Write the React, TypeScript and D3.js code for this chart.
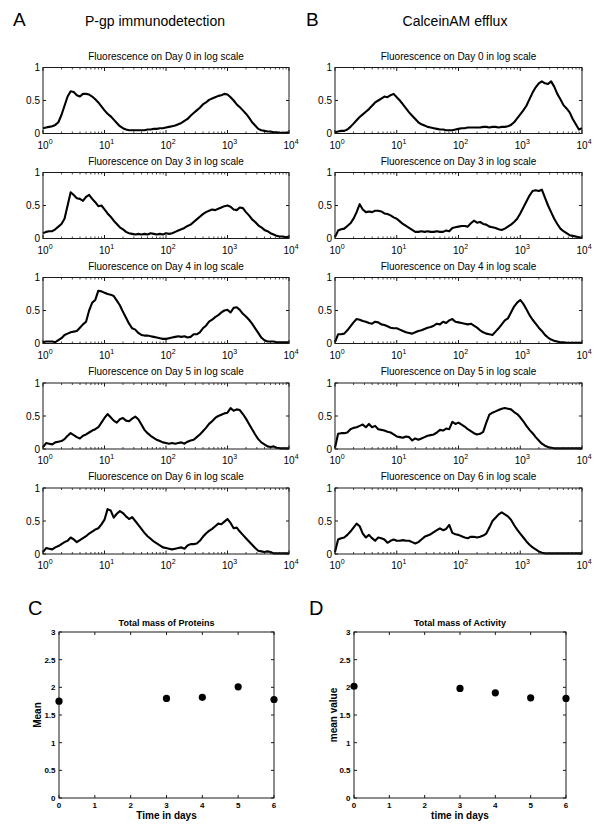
import React from "react";
import * as d3 from "d3";

// histogram bins, 0.05 decade apart from 10^0 to 10^4 (log10 units)
const logBins = d3.range(0, 81).map((i) => i * 0.05);

const pgpDay0 = [
  0.08, 0.09, 0.1, 0.11, 0.13, 0.17, 0.28, 0.42,
  0.56, 0.64, 0.63, 0.58, 0.56, 0.6, 0.6, 0.59,
  0.56, 0.52, 0.47, 0.41, 0.35, 0.3, 0.26, 0.21,
  0.16, 0.11, 0.08, 0.06, 0.05, 0.05, 0.05, 0.05,
  0.05, 0.05, 0.06, 0.06, 0.07, 0.07, 0.08, 0.08,
  0.09, 0.1, 0.11, 0.12, 0.14, 0.16, 0.19, 0.22,
  0.27, 0.31, 0.35, 0.39, 0.44, 0.47, 0.51, 0.53,
  0.55, 0.57, 0.58, 0.6, 0.59, 0.55, 0.5, 0.44,
  0.4, 0.35, 0.3, 0.24, 0.17, 0.12, 0.07, 0.05,
  0.04, 0.03, 0.03, 0.02, 0.02, 0.01, 0.01, 0.01,
  0.02,
];
const pgpDay3 = [
  0.08, 0.1, 0.11, 0.11, 0.14, 0.18, 0.22, 0.3,
  0.5, 0.7, 0.66, 0.61, 0.6, 0.57, 0.63, 0.66,
  0.6, 0.55, 0.49, 0.5, 0.44, 0.38, 0.33, 0.27,
  0.22, 0.17, 0.14, 0.1, 0.08, 0.07, 0.06, 0.07,
  0.06, 0.07, 0.06, 0.08, 0.07, 0.06, 0.07, 0.06,
  0.08, 0.07, 0.08, 0.1, 0.12, 0.14, 0.16, 0.19,
  0.21, 0.25, 0.29, 0.33, 0.37, 0.4, 0.42, 0.44,
  0.43, 0.45, 0.47, 0.49, 0.5, 0.48, 0.44, 0.43,
  0.47, 0.46, 0.4, 0.35, 0.29, 0.25, 0.2, 0.17,
  0.13, 0.11, 0.08, 0.06, 0.04, 0.03, 0.03, 0.02,
  0.03,
];
const pgpDay4 = [
  0.02, 0.03, 0.03, 0.03, 0.02, 0.05, 0.08, 0.13,
  0.15, 0.17, 0.18, 0.19, 0.24, 0.29, 0.33, 0.5,
  0.62, 0.66, 0.8, 0.79, 0.77, 0.75, 0.74, 0.72,
  0.65, 0.58, 0.48, 0.39, 0.3, 0.23, 0.21, 0.16,
  0.13, 0.12, 0.12, 0.11, 0.1, 0.09, 0.08, 0.07,
  0.07, 0.08, 0.09, 0.1, 0.11, 0.1, 0.11, 0.09,
  0.1, 0.14, 0.14, 0.17, 0.23, 0.27, 0.33, 0.36,
  0.4, 0.43, 0.47, 0.5, 0.51, 0.47, 0.54, 0.55,
  0.51, 0.45, 0.41, 0.36, 0.3, 0.23, 0.16, 0.09,
  0.05, 0.03, 0.03, 0.03, 0.02, 0.02, 0.02, 0.02,
  0.02,
];
const pgpDay5 = [
  0.03, 0.09, 0.08, 0.07, 0.1, 0.11, 0.12, 0.15,
  0.2, 0.24, 0.21, 0.18, 0.16, 0.2, 0.22, 0.25,
  0.28, 0.3, 0.33, 0.4, 0.47, 0.53, 0.48, 0.43,
  0.4, 0.45, 0.47, 0.43, 0.42, 0.46, 0.49, 0.45,
  0.37, 0.29, 0.24, 0.2, 0.17, 0.14, 0.12, 0.1,
  0.09, 0.08, 0.09, 0.08, 0.09, 0.1, 0.08, 0.11,
  0.13, 0.14, 0.18, 0.22, 0.27, 0.32, 0.38, 0.42,
  0.47, 0.5, 0.52, 0.54, 0.55, 0.62, 0.58, 0.6,
  0.59, 0.53, 0.46, 0.38, 0.3, 0.22, 0.15, 0.1,
  0.07, 0.04, 0.03, 0.04, 0.02, 0.01, 0.01, 0.01,
  0.01,
];
const pgpDay6 = [
  0.03, 0.09, 0.08, 0.07, 0.1, 0.12, 0.15, 0.18,
  0.2, 0.25, 0.22, 0.18, 0.21, 0.24, 0.27, 0.31,
  0.34, 0.37, 0.39, 0.45, 0.52, 0.68, 0.66, 0.55,
  0.61, 0.65, 0.62, 0.57, 0.53, 0.56, 0.5, 0.44,
  0.38, 0.32, 0.27, 0.23, 0.19, 0.16, 0.13, 0.1,
  0.09, 0.08, 0.07, 0.08, 0.09, 0.1, 0.08, 0.13,
  0.15, 0.15, 0.16, 0.2, 0.26, 0.31, 0.35, 0.38,
  0.42, 0.46, 0.45, 0.49, 0.53, 0.47, 0.39, 0.4,
  0.34, 0.29, 0.24, 0.19, 0.14, 0.09, 0.05, 0.04,
  0.03, 0.04, 0.03, 0.01, 0.01, 0.01, 0.01, 0.01,
  0.01,
];

const calceinDay0 = [
  0.02, 0.03, 0.04, 0.04, 0.06, 0.1, 0.15, 0.2,
  0.25, 0.29, 0.33, 0.37, 0.42, 0.47, 0.5, 0.53,
  0.56, 0.55, 0.58, 0.6, 0.55, 0.5, 0.44, 0.38,
  0.32, 0.27, 0.22, 0.17, 0.14, 0.12, 0.1, 0.09,
  0.08, 0.07, 0.06, 0.06, 0.05, 0.05, 0.05, 0.06,
  0.07, 0.08, 0.08, 0.09, 0.09, 0.09, 0.09, 0.09,
  0.1, 0.1, 0.09, 0.1, 0.1, 0.09, 0.1, 0.1,
  0.11, 0.13, 0.17, 0.23, 0.29, 0.35, 0.42, 0.52,
  0.62, 0.7, 0.76, 0.79, 0.76, 0.75, 0.79, 0.71,
  0.6, 0.52, 0.43, 0.38, 0.32, 0.22, 0.14, 0.06,
  0.08,
];
const calceinDay3 = [
  0.02, 0.12, 0.14, 0.15, 0.19, 0.23, 0.3, 0.4,
  0.52, 0.44, 0.4, 0.41, 0.4, 0.42, 0.42, 0.41,
  0.38, 0.37, 0.35, 0.32, 0.3, 0.26, 0.22, 0.19,
  0.16, 0.13, 0.1, 0.1, 0.11, 0.1, 0.11, 0.1,
  0.1, 0.11, 0.1, 0.1, 0.12, 0.11, 0.16, 0.17,
  0.18, 0.19, 0.19, 0.18, 0.23, 0.27, 0.24, 0.25,
  0.22, 0.21, 0.18, 0.17, 0.16, 0.14, 0.13, 0.15,
  0.18, 0.21, 0.25, 0.3, 0.38, 0.47, 0.56, 0.65,
  0.72, 0.73, 0.72, 0.74, 0.62, 0.5, 0.4, 0.3,
  0.22, 0.15, 0.11, 0.08, 0.05, 0.04, 0.03, 0.02,
  0.01,
];
const calceinDay4 = [
  0.02, 0.14, 0.14, 0.15, 0.2, 0.26, 0.32, 0.37,
  0.36, 0.34, 0.33, 0.31, 0.3, 0.33, 0.32, 0.29,
  0.28, 0.26, 0.24, 0.23, 0.23, 0.21, 0.19, 0.17,
  0.16, 0.15, 0.17, 0.19, 0.2, 0.22, 0.24, 0.25,
  0.27, 0.3, 0.29, 0.33, 0.31, 0.35, 0.37, 0.33,
  0.32, 0.31, 0.3, 0.29, 0.3, 0.27, 0.24, 0.2,
  0.17, 0.15, 0.14, 0.13, 0.18, 0.23, 0.29, 0.35,
  0.38, 0.47, 0.56, 0.62, 0.66, 0.6, 0.52, 0.43,
  0.36, 0.3, 0.24, 0.19, 0.13, 0.09, 0.06, 0.04,
  0.03, 0.02, 0.02, 0.01, 0.01, 0.01, 0.01, 0.01,
  0.01,
];
const calceinDay5 = [
  0.02, 0.23, 0.24, 0.24, 0.25, 0.3, 0.32, 0.33,
  0.35, 0.37, 0.33, 0.38, 0.33, 0.35, 0.3, 0.29,
  0.28, 0.26, 0.25, 0.22, 0.19, 0.18, 0.17, 0.19,
  0.18, 0.13, 0.16, 0.14, 0.16, 0.18, 0.2, 0.21,
  0.22, 0.25, 0.29, 0.28, 0.31, 0.3, 0.41, 0.38,
  0.4, 0.37, 0.34, 0.3, 0.27, 0.24, 0.22, 0.23,
  0.26, 0.4, 0.52, 0.55, 0.57, 0.59, 0.61, 0.62,
  0.61, 0.6, 0.56, 0.53, 0.48, 0.42, 0.35, 0.29,
  0.24, 0.18, 0.13, 0.08, 0.05, 0.03, 0.02, 0.01,
  0.01, 0.01, 0.01, 0.01, 0.01, 0.01, 0.01, 0.01,
  0.01,
];
const calceinDay6 = [
  0.03, 0.22, 0.24, 0.25, 0.29, 0.34, 0.4, 0.46,
  0.42, 0.31, 0.25, 0.29, 0.24, 0.2, 0.25, 0.24,
  0.22, 0.17, 0.2, 0.22, 0.2, 0.2, 0.21, 0.2,
  0.2, 0.18, 0.16, 0.18, 0.22, 0.26, 0.28, 0.3,
  0.33, 0.36, 0.39, 0.36, 0.38, 0.44, 0.32, 0.3,
  0.29, 0.27, 0.25, 0.24, 0.26, 0.26, 0.25, 0.26,
  0.28, 0.31, 0.4, 0.5, 0.55, 0.6, 0.63, 0.6,
  0.57, 0.52, 0.44, 0.37, 0.31, 0.25, 0.19, 0.14,
  0.1, 0.07, 0.04, 0.02, 0.01, 0.01, 0.01, 0.01,
  0.01, 0.01, 0.01, 0.01, 0.01, 0.01, 0.01, 0.01,
  0.01,
];

const dayNames = ["0", "3", "4", "5", "6"];
const pgpSeries = [pgpDay0, pgpDay3, pgpDay4, pgpDay5, pgpDay6];
const calceinSeries = [calceinDay0, calceinDay3, calceinDay4, calceinDay5, calceinDay6];

const decadeTicks = [1, 10, 100, 1000, 10000];
const decadeExps = ["0", "1", "2", "3", "4"];
const histYTicks = [0, 0.5, 1];
const histYLabels = ["0", "0.5", "1"];

const timeDays = [0, 3, 4, 5, 6];
const proteinMean = [1.75, 1.8, 1.82, 2.01, 1.78];
const activityMean = [2.02, 1.98, 1.9, 1.81, 1.8];
const dayTicks = [0, 1, 2, 3, 4, 5, 6];
const meanTicks = [0, 0.5, 1, 1.5, 2, 2.5, 3];
const meanTickLabels = ["0", "0.5", "1", "1.5", "2", "2.5", "3"];

const FONT = "'Liberation Sans', Arial, Helvetica, sans-serif";
const AX = "#1a1a1a";
const PANEL_TOPS = [67.5, 172.5, 277.5, 383, 488];
const PANEL_H = 66;

const minorTicks = d3.range(0, 4).flatMap((e) => d3.range(2, 10).map((k) => k * Math.pow(10, e)));

function HistPanel({ left, right, top, values, title }) {
  const bottom = top + PANEL_H;
  const x = d3.scaleLog().domain([1, 1e4]).range([left, right]);
  const y = d3.scaleLinear().domain([0, 1]).range([bottom, top]);
  const line = d3
    .line<number>()
    .x((_, i) => x(Math.pow(10, logBins[i])))
    .y((d) => y(d));

  return (
    <g>
      <text x={(left + right) / 2} y={top - 8} textAnchor="middle" fontSize={10}>
        {title}
      </text>
      <path d={line(values) || ""} fill="none" stroke="#000" strokeWidth={2.1} strokeLinejoin="round" />
      <rect x={left} y={top} width={right - left} height={PANEL_H} fill="none" stroke={AX} strokeWidth={1} />
      {decadeTicks.map((t) => (
        <g key={"M" + t}>
          <line x1={x(t)} x2={x(t)} y1={bottom} y2={bottom - 3.5} stroke={AX} />
          <line x1={x(t)} x2={x(t)} y1={top} y2={top + 3.5} stroke={AX} />
        </g>
      ))}
      {minorTicks.map((t) => (
        <g key={"m" + t}>
          <line x1={x(t)} x2={x(t)} y1={bottom} y2={bottom - 2} stroke={AX} strokeWidth={0.8} />
          <line x1={x(t)} x2={x(t)} y1={top} y2={top + 2} stroke={AX} strokeWidth={0.8} />
        </g>
      ))}
      {histYTicks.map((t, i) => (
        <g key={"y" + t}>
          <line x1={left} x2={left + 3} y1={y(t)} y2={y(t)} stroke={AX} />
          <line x1={right} x2={right - 3} y1={y(t)} y2={y(t)} stroke={AX} />
          <text x={left - 3} y={y(t) + 3.6} textAnchor="end" fontSize={10}>
            {histYLabels[i]}
          </text>
        </g>
      ))}
      {decadeTicks.map((t, i) => (
        <text key={"l" + t} x={x(t) - 5.5} y={bottom + 15} fontSize={10}>
          10
          <tspan dy={-5} fontSize={7}>
            {decadeExps[i]}
          </tspan>
        </text>
      ))}
    </g>
  );
}

function MeanPanel({ left, right, title, xLabel, yLabel, values, labelX }) {
  const top = 632;
  const bottom = 798;
  const x = d3.scaleLinear().domain([0, 6]).range([left, right]);
  const y = d3.scaleLinear().domain([0, 3]).range([bottom, top]);
  return (
    <g fontWeight="bold">
      <text x={(left + right) / 2} y={top - 6.5} textAnchor="middle" fontSize={9}>
        {title}
      </text>
      <rect x={left} y={top} width={right - left} height={bottom - top} fill="none" stroke={AX} />
      {dayTicks.map((t) => (
        <g key={"x" + t}>
          <line x1={x(t)} x2={x(t)} y1={bottom} y2={bottom - 3} stroke={AX} />
          <line x1={x(t)} x2={x(t)} y1={top} y2={top + 3} stroke={AX} />
          <text x={x(t)} y={bottom + 10} textAnchor="middle" fontSize={8}>
            {t}
          </text>
        </g>
      ))}
      {meanTicks.map((t, i) => (
        <g key={"y" + t}>
          <line x1={left} x2={left + 3} y1={y(t)} y2={y(t)} stroke={AX} />
          <line x1={right} x2={right - 3} y1={y(t)} y2={y(t)} stroke={AX} />
          <text x={left - 3.5} y={y(t) + 3} textAnchor="end" fontSize={8}>
            {meanTickLabels[i]}
          </text>
        </g>
      ))}
      {values.map((v, i) => (
        <circle key={i} cx={x(timeDays[i])} cy={y(v)} r={3.6} fill="#000" />
      ))}
      <text x={(left + right) / 2} y={bottom + 21} textAnchor="middle" fontSize={10}>
        {xLabel}
      </text>
      <text transform={`translate(${labelX},${(top + bottom) / 2}) rotate(-90)`} textAnchor="middle" fontSize={10}>
        {yLabel}
      </text>
    </g>
  );
}

export default function App() {
  return (
    <svg
      width={600}
      height={830}
      style={{ position: "absolute", left: 0, top: 0, background: "#fff" }}
      fontFamily={FONT}
      fill="#000"
    >
      <rect width={600} height={830} fill="#fff" />
      <text x={13} y={26} fontSize={19}>A</text>
      <text x={155} y={26} textAnchor="middle" fontSize={14}>P-gp immunodetection</text>
      <text x={306} y={26} fontSize={19}>B</text>
      <text x={455} y={26} textAnchor="middle" fontSize={14}>CalceinAM efflux</text>

      {pgpSeries.map((s, i) => (
        <HistPanel
          key={"p" + i}
          left={43}
          right={289}
          top={PANEL_TOPS[i]}
          values={s}
          title={`Fluorescence on Day ${dayNames[i]} in log scale`}
        />
      ))}
      {calceinSeries.map((s, i) => (
        <HistPanel
          key={"c" + i}
          left={335}
          right={582}
          top={PANEL_TOPS[i]}
          values={s}
          title={`Fluorescence on Day ${dayNames[i]} in log scale`}
        />
      ))}

      <text x={28} y={615} fontSize={20}>C</text>
      <text x={309} y={615} fontSize={20}>D</text>
      <MeanPanel
        left={59}
        right={274}
        title="Total mass of Proteins"
        xLabel="Time in days"
        yLabel="Mean"
        values={proteinMean}
        labelX={41}
      />
      <MeanPanel
        left={354}
        right={566}
        title="Total mass of Activity"
        xLabel="time in days"
        yLabel="mean value"
        values={activityMean}
        labelX={337}
      />
    </svg>
  );
}
